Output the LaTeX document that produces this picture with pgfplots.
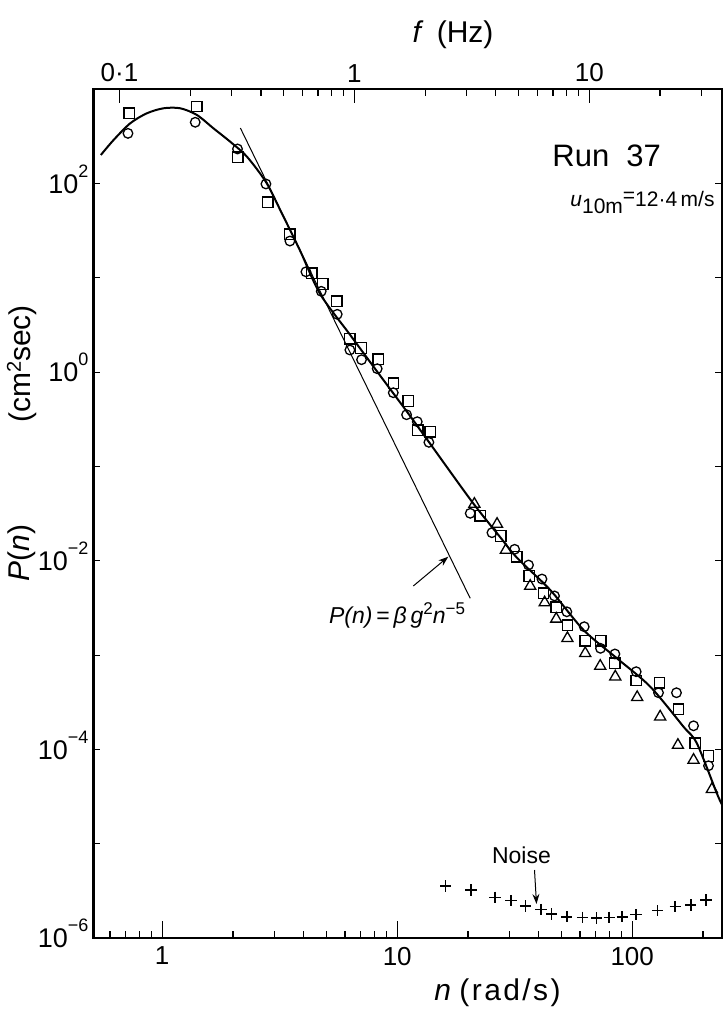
\documentclass[border=0pt]{standalone}
\usepackage{pgfplots}
\pgfplotsset{compat=1.18}
\usetikzlibrary{arrows.meta}
\usepackage{fontspec}
\setmainfont{Liberation Sans}
\newcommand\tl[1]{10\raisebox{8pt}{\fontsize{9}{10}\selectfont #1}}
\begin{document}
\begin{tikzpicture}
\def\W{314.35pt}
\def\H{424.35pt}
\path[use as bounding box] (-46.75pt,-36.5pt) rectangle (314.75pt,469pt);
% main axis with data and bottom ticks
\begin{axis}[
  at={(0,0)}, anchor=south west, scale only axis, width=\W, height=\H,
  xmode=log, ymode=log, xmin=0.51, xmax=241.5, ymin=1e-6, ymax=1e3,
  axis line style={line width=1pt},
  xtick={1,10,100}, xticklabels={1,10,100}, xtick pos=left,
  minor xtick={0.6,0.7,0.8,0.9,2,3,4,5,6,7,8,9,20,30,40,50,60,70,80,90,200},
  ytick=\empty,
  tick align=inside,
  major tick length=8.5pt, minor tick length=3.5pt,
  every tick/.style={black, line width=0.6pt},
  xticklabel style={font=\fontsize{13}{15}\selectfont, yshift=-1pt},
]
% fitted curve
\addplot[black, line width=1pt, smooth, tension=0.5] coordinates {
(0.548,201) (0.621,290) (0.731,436) (0.861,557) (1.013,629) (1.193,629)
(1.405,534) (1.653,385) (1.947,278) (2.293,193) (2.763,104) (3.178,52.5)
(3.866,19.3) (4.70,6.75) (6.31,2.48) (8.30,0.981) (11.03,0.378)
(13.64,0.182) (20.8,0.0424) (27.4,0.01786) (32.4,0.01072) (44.8,0.0049) (62.1,1.845e-3)
(86.1,9.25e-4) (119.4,4.62e-4) (165.3,1.74e-4) (188.4,1.16e-4) (229.2,3.42e-5) (241.5,2.57e-5)};
% n^-5 line
\addplot[black, line width=0.5pt] coordinates {(2.15,389) (20.45,0.0040)};
% squares
\addplot[only marks, mark=square, mark size=2.6pt, mark options={line width=0.65pt}] coordinates {
(0.724,556) (1.405,655) (2.10,190) (2.81,63.4) (3.495,29.0) (4.335,11.2) (4.83,8.61) (5.54,5.65)
(6.29,2.26) (7.01,1.806) (8.30,1.370) (9.64,0.762) (11.14,0.495) (12.25,0.242) (13.82,0.234)
(22.55,0.0301) (27.6,0.01832) (32.3,0.01104) (36.5,0.0069) (41.9,0.00452) (47.5,0.00321)
(53.0,0.00208) (63.1,0.001421) (73.6,0.001421) (84.4,8.18e-4) (104,5.36e-4) (130.6,5.09e-4)
(157.4,2.66e-4) (185.3,1.16e-4) (211.2,8.51e-5)};
% circles
\addplot[only marks, mark=o, mark size=2.4pt, mark options={line width=0.65pt}] coordinates {
(0.715,341) (1.382,447) (2.091,233) (2.763,99.1) (3.495,24.6) (4.088,11.6) (4.75,7.21) (5.556,4.11)
(6.29,1.72) (7.05,1.357) (8.22,1.089) (9.62,0.606) (10.96,0.354) (12.17,0.2986) (13.64,0.1805)
(20.45,0.0319) (25.3,0.01986) (31.6,0.01324) (36.2,0.00902) (41.3,0.00641) (46.7,0.00424)
(52.7,0.00288) (62.5,0.002) (73.3,0.00118) (84.4,0.001028) (104,6.67e-4) (129.4,3.99e-4)
(154.3,3.99e-4) (182.4,1.78e-4) (211.2,6.71e-5)};
% triangles
\addplot[only marks, mark=triangle, mark size=3.2pt, mark options={line width=0.65pt}] coordinates {
(21.3,0.04) (26.6,0.0245) (29.0,0.0130) (36.8,0.0054) (42.4,0.0036) (47.5,0.00242) (53.0,0.001507)
(63.1,0.001045) (73.1,7.66e-4) (84.7,5.90e-4) (105,3.57e-4) (131.5,2.22e-4) (156.5,1.11e-4)
(182.4,7.72e-5) (218.3,3.78e-5)};
% noise
\addplot[only marks, mark=+, mark size=2.8pt, mark options={line width=0.75pt}] coordinates {
(16.07,3.56e-6) (20.59,3.23e-6) (26.05,2.70e-6) (30.5,2.49e-6) (35.1,2.18e-6) (40.9,2.01e-6)
(45.4,1.80e-6) (52.7,1.68e-6) (61.4,1.66e-6) (70.6,1.63e-6) (79.8,1.66e-6) (90.6,1.68e-6)
(103.7,1.77e-6) (128.3,1.95e-6) (152.3,2.15e-6) (177.5,2.24e-6) (205.9,2.53e-6)};
\end{axis}
% y ticks on both sides
\begin{axis}[
  at={(0,0)}, anchor=south west, scale only axis, width=\W, height=\H,
  xmode=log, ymode=log, xmin=0.51, xmax=241.5, ymin=1e-6, ymax=1e3,
  hide x axis, axis line style={line width=1pt},
  ytick={1e-6,1e-5,1e-4,1e-3,1e-2,1e-1,1e0,1e1,1e2,1e3},
  yticklabels={\tl{−6},,\tl{−4},,\tl{−2},,\tl{0},,\tl{2},},
  ytick pos=both, yticklabel pos=left,
  tick align=inside, major tick length=3.5pt, minor tick length=0pt,
  every tick/.style={black, line width=0.6pt},
  yticklabel style={font=\fontsize{13.5}{15}\selectfont, anchor=base east, yshift=-4.8pt, xshift=1pt},
]
\addplot[draw=none] coordinates {(1,1)};
\end{axis}
% top frequency axis
\begin{axis}[
  at={(0,0)}, anchor=south west, scale only axis, width=\W, height=\H,
  xmode=log, xmin=0.0775, xmax=36.8, ymin=0, ymax=1,
  hide y axis, axis x line*=top, x axis line style={line width=1pt,-},
  xtick={0.1,1,10}, xticklabels={0·1,1,10},
  minor xtick={0.2,0.3,0.4,0.5,0.6,0.7,0.8,0.9,2,3,4,5,6,7,8,9,20,30},
  tick align=inside, major tick length=7pt, minor tick length=3.5pt,
  every tick/.style={black, line width=0.6pt},
  xticklabel style={font=\fontsize{13}{15}\selectfont},
]
\addplot[draw=none] coordinates {(1,0.5)};
\end{axis}
% annotations
\node[font=\fontsize{15}{18}\selectfont] at (179.75pt,451.5pt) {\textit{f}\,\ (Hz)};
\node[font=\fontsize{15}{18}\selectfont] at (202pt,-27.5pt) {\textit{n}\ {\addfontfeature{LetterSpace=8}(rad/s)}};
\node[font=\fontsize{15}{18}\selectfont, rotate=90] at (-35.75pt,192.5pt) {\textit{P}(\textit{n})};
\node[font=\fontsize{15}{18}\selectfont, rotate=90] at (-35.75pt,287pt) {(cm\raisebox{5pt}{\fontsize{10}{11}\selectfont 2}sec)};
\node[font=\fontsize{15.5}{18}\selectfont] at (256.6pt,391pt) {Run\ \ 37};
\node[font=\fontsize{10.5}{12}\selectfont] at (274.5pt,367.5pt) {\textit{u}\raisebox{-3.5pt}{10m}\raisebox{2pt}{=}12·4\,m/s};
\node[font=\fontsize{11.5}{13}\selectfont] at (151.75pt,161.5pt) {\textit{P(n)}\,=\,\textit{β\,g}\raisebox{4.5pt}{\fontsize{8.5}{9}\selectfont 2}\textit{n}\raisebox{4.5pt}{\fontsize{8.5}{9}\selectfont −5}};
\draw[-{Stealth[length=5pt,width=3.5pt]}, line width=0.5pt] (159.9pt,176pt) -- (177.4pt,190.65pt);
\node[font=\fontsize{11.5}{13}\selectfont] at (213.95pt,41.5pt) {Noise};
\draw[-{Stealth[length=5pt,width=3.5pt]}, line width=0.5pt] (220.5pt,34pt) -- (221.5pt,17pt);
\end{tikzpicture}
\end{document}
